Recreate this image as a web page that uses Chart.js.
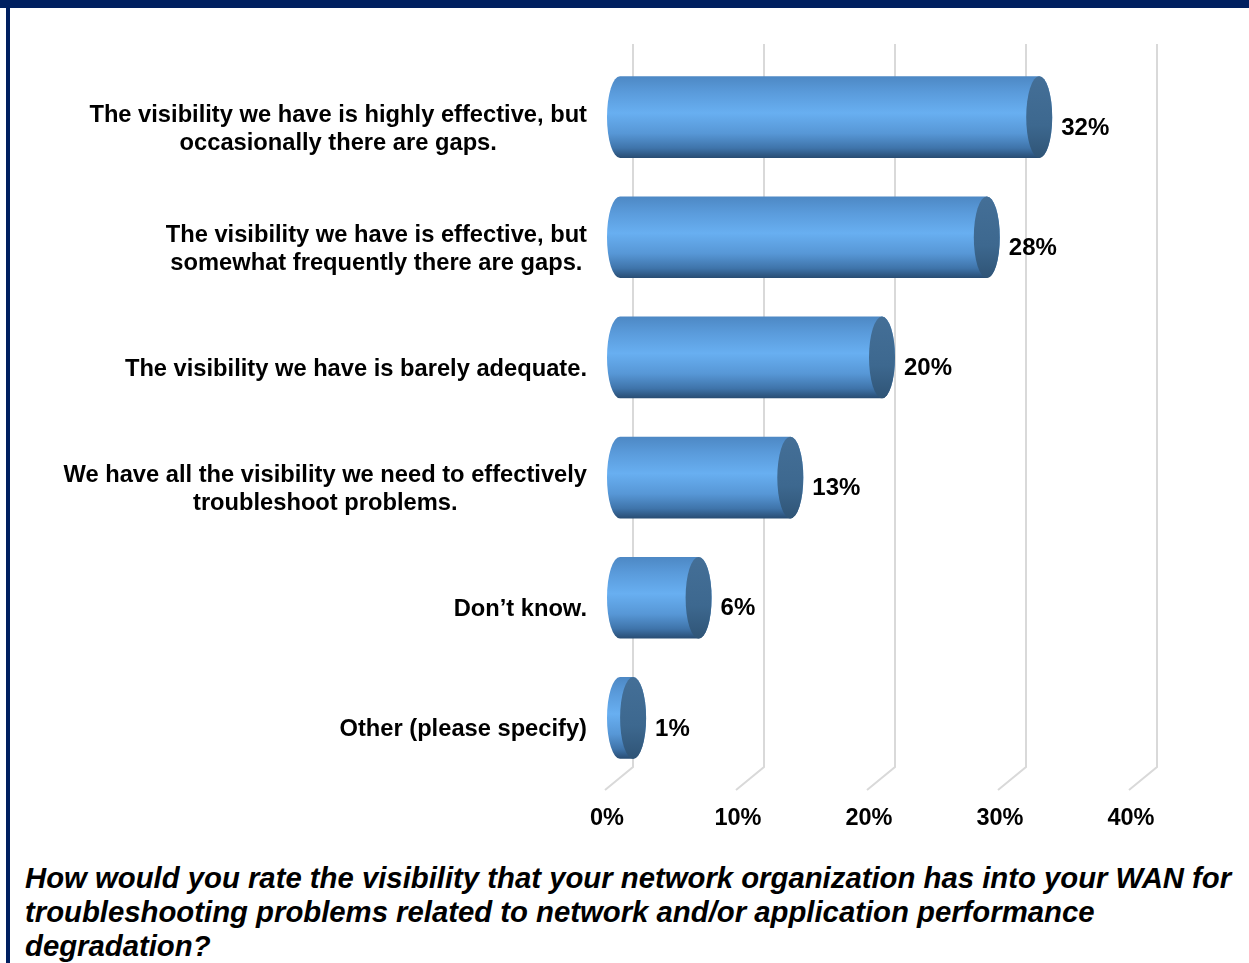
<!DOCTYPE html>
<html>
<head>
<meta charset="utf-8">
<script src="https://cdn.jsdelivr.net/npm/chart.js@4.4.1/dist/chart.umd.min.js"></script>
<style>
  html, body { margin: 0; padding: 0; background: #fff; }
  body { width: 1249px; height: 963px; position: relative; overflow: hidden; font-family: "Liberation Sans", Arial, sans-serif; }
  #topBar { position: absolute; left: 0; top: 0; width: 1249px; height: 8px; background: #002060; }
  #leftRule { position: absolute; left: 6px; top: 0; width: 4px; height: 963px; background: #002060; }
  #chartBox { position: absolute; left: 0; top: 0; width: 1249px; height: 850px; }
  #question { position: absolute; left: 25px; top: 861px; width: 1222px; font: italic bold 29.3px/34px "Liberation Sans", Arial, sans-serif; color: #000; }
</style>
</head>
<body>
<div id="topBar"></div>
<div id="leftRule"></div>
<div id="chartBox"><canvas id="visChart"></canvas></div>
<div id="question">How would you rate the visibility that your network organization has into your WAN for troubleshooting problems related to network and/or application performance degradation?</div>

<script>
// answers, top to bottom
const categories = [
    ['The visibility we have is highly effective, but', 'occasionally there are gaps.'],
    ['The visibility we have is effective, but', 'somewhat frequently there are gaps.'],
    ['The visibility we have is barely adequate.'],
    ['We have all the visibility we need to effectively', 'troubleshoot problems.'],
    ['Don\u2019t know.'],
    ['Other (please specify)']
];
const responses = [32, 28, 20, 13, 6, 1];
const tickValues = [0, 10, 20, 30, 40];
const tickLabels = ['0%', '10%', '20%', '30%', '40%'];

// fake 3D depth: bars sit half way back, the grid on the back wall
const DX = 13, DY = 11;
const FONT = '"Liberation Sans", Arial, sans-serif';

// back wall gridlines with the little floor diagonal
const wallGrid = {
    id: 'wallGrid',
    beforeDatasetsDraw(chart) {
        const { ctx, chartArea } = chart;
        const xs = chart.scales.x;
        ctx.save();
        ctx.strokeStyle = '#d9d9d9';
        ctx.lineWidth = 2;
        tickValues.forEach(v => {
            const px = xs.getPixelForValue(v);
            ctx.beginPath();
            ctx.moveTo(px - 2, chartArea.bottom + 1);
            ctx.lineTo(px + 2 * DX, chartArea.bottom - 2 * DY);
            ctx.lineTo(px + 2 * DX, chartArea.top - 2 * DY - 2);
            ctx.stroke();
        });
        ctx.restore();
    }
};

// cylinders drawn over the (transparent) bar elements
const cylinders = {
    id: 'cylinders',
    afterDatasetsDraw(chart) {
        const { ctx } = chart;
        const meta = chart.getDatasetMeta(0);
        ctx.save();
        meta.data.forEach((bar, i) => {
            const x0 = bar.base + DX;
            const x1 = bar.x + DX;
            const cy = bar.y - DY;
            const ry = bar.height / 2;
            const rx = 13;

            const g = ctx.createLinearGradient(0, cy - ry, 0, cy + ry);
            g.addColorStop(0, '#4d88c4');
            g.addColorStop(0.2, '#5a9bdb');
            g.addColorStop(0.45, '#68aff1');
            g.addColorStop(0.7, '#5797d6');
            g.addColorStop(0.88, '#3f74aa');
            g.addColorStop(1, '#284c72');

            ctx.beginPath();
            ctx.moveTo(x0, cy - ry);
            ctx.lineTo(x1, cy - ry);
            ctx.ellipse(x1, cy, rx, ry, 0, -Math.PI / 2, Math.PI / 2);
            ctx.lineTo(x0, cy + ry);
            ctx.ellipse(x0, cy, rx, ry, 0, Math.PI / 2, Math.PI * 1.5);
            ctx.closePath();
            ctx.fillStyle = g;
            ctx.fill();

            // end cap
            const cg = ctx.createLinearGradient(0, cy - ry, 0, cy + ry);
            cg.addColorStop(0, '#446f97');
            cg.addColorStop(0.6, '#3d688f');
            cg.addColorStop(1, '#2f5476');
            ctx.beginPath();
            ctx.ellipse(x1, cy, rx, ry, 0, 0, Math.PI * 2);
            ctx.fillStyle = cg;
            ctx.fill();

            // value label
            ctx.fillStyle = '#000';
            ctx.font = 'bold 24px ' + FONT;
            ctx.textAlign = 'left';
            ctx.textBaseline = 'middle';
            ctx.fillText(responses[i] + '%', x1 + rx + 9, bar.y);
        });
        ctx.restore();
    }
};

// category labels: block right aligned, lines centred within it
const categoryLabels = {
    id: 'categoryLabels',
    afterDraw(chart) {
        const { ctx, chartArea } = chart;
        const ys = chart.scales.y;
        const right = chartArea.left - 20;
        ctx.save();
        ctx.font = 'bold 23.7px ' + FONT;
        ctx.fillStyle = '#000';
        ctx.textAlign = 'center';
        ctx.textBaseline = 'middle';
        categories.forEach((lines, i) => {
            const y = ys.getPixelForValue(i) + 1;
            const w = Math.max(...lines.map(l => ctx.measureText(l).width));
            const cx = right - w / 2;
            const lh = 28;
            const y0 = y - (lines.length - 1) * lh / 2;
            lines.forEach((l, j) => ctx.fillText(l, cx, y0 + j * lh));
        });
        ctx.restore();
    }
};

new Chart(document.getElementById('visChart'), {
    type: 'bar',
    data: {
        labels: categories,
        datasets: [{
            data: responses,
            backgroundColor: 'rgba(0,0,0,0)',
            borderWidth: 0,
            barPercentage: 0.68,
            categoryPercentage: 1
        }]
    },
    options: {
        indexAxis: 'y',
        responsive: true,
        maintainAspectRatio: false,
        animation: false,
        events: [],
        layout: { padding: { left: 607, right: 118, top: 68, bottom: 0 } },
        plugins: { legend: { display: false }, tooltip: { enabled: false } },
        scales: {
            x: {
                min: 0, max: 40,
                afterBuildTicks: s => { s.ticks = tickValues.map(v => ({ value: v })); },
                afterFit: s => { s.height = 61; },
                grid: { display: false },
                border: { display: false },
                ticks: {
                    padding: 7,
                    color: '#000',
                    font: { family: FONT, size: 23.5, weight: 'bold' },
                    callback: (v, i) => tickLabels[i]
                }
            },
            y: { display: false }
        }
    },
    plugins: [wallGrid, cylinders, categoryLabels]
});
</script>
</body>
</html>
